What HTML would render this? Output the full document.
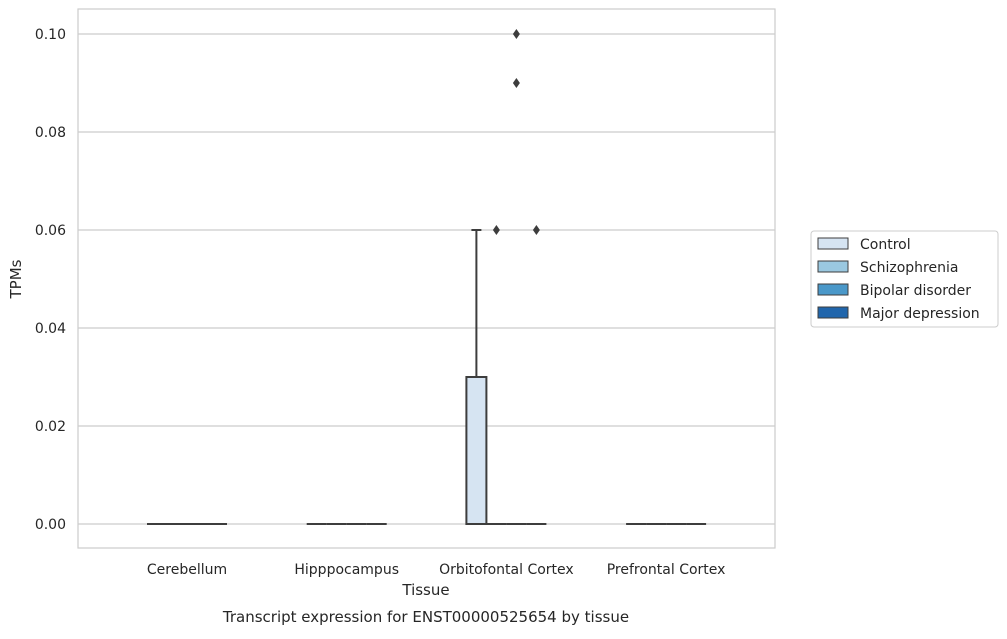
<!DOCTYPE html>
<html><head><meta charset="utf-8"><style>
body{margin:0;background:#fff;font-family:"Liberation Sans","DejaVu Sans",sans-serif;}
svg text{fill:#262626;font-family:"DejaVu Sans","Liberation Sans",sans-serif;}
</style></head><body>
<svg id="chart" width="1007" height="634" xmlns="http://www.w3.org/2000/svg">
<g id="grid"></g>
<g id="marks"></g>
<rect x="78" y="9" width="697" height="539" fill="none" stroke="#cccccc" stroke-width="1.2"/>
<g id="axes"></g>
<text x="426" y="595" font-size="15" text-anchor="middle">Tissue</text>
<text x="21" y="279" font-size="15" text-anchor="middle" transform="rotate(-90 21 279)">TPMs</text>
<text x="426" y="622" font-size="15" text-anchor="middle">Transcript expression for ENST00000525654 by tissue</text>
<g>
<rect x="811" y="231" width="187" height="96" rx="3" fill="#fff" stroke="#cccccc"/>
<g id="legend-items"></g>
</g>
</svg>
<script>
const categories=["Cerebellum","Hipppocampus","Orbitofontal Cortex","Prefrontal Cortex"];
const hues=["Control","Schizophrenia","Bipolar disorder","Major depression"];
const hueColors=["#d6e4f2","#9ac8e0","#4a98c9","#2166ac"];
const yTicks=[0,0.02,0.04,0.06,0.08,0.1];
const yTickLabels=["0.00","0.02","0.04","0.06","0.08","0.10"];
// [category][hue] = [q1, median, q3, whiskerLow, whiskerHigh]
const boxStats=[
 [[0,0,0,0,0],[0,0,0,0,0],[0,0,0,0,0],[0,0,0,0,0]],
 [[0,0,0,0,0],[0,0,0,0,0],[0,0,0,0,0],[0,0,0,0,0]],
 [[0,0,0.03,0,0.06],[0,0,0,0,0],[0,0,0,0,0],[0,0,0,0,0]],
 [[0,0,0,0,0],[0,0,0,0,0],[0,0,0,0,0],[0,0,0,0,0]]
];
const outlierCat=[2,2,2,2];
const outlierHue=[1,2,2,3];
const outlierVal=[0.06,0.10,0.09,0.06];

const NS="http://www.w3.org/2000/svg";
const y=v=>524-v*4900;
const x=i=>187+i*159.7;
const hx=h=>(h-1.5)*20;
function mk(tag,attrs,parent){const e=document.createElementNS(NS,tag);for(const k in attrs)e.setAttribute(k,attrs[k]);parent.appendChild(e);return e;}
const grid=document.getElementById('grid'),axes=document.getElementById('axes'),marks=document.getElementById('marks');
yTicks.forEach((t,i)=>{
 const l=mk('line',{x1:78,x2:775,y1:y(t),y2:y(t),stroke:'#cccccc','stroke-width':1.2},grid);
 
 const tx=mk('text',{x:66,y:y(t)+5,'font-size':14,'text-anchor':'end'},axes);tx.textContent=yTickLabels[i];
 
});
categories.forEach((c,i)=>{
 const tx=mk('text',{x:x(i),y:574,'font-size':14,'text-anchor':'middle'},axes);tx.textContent=c;
 
 boxStats[i].forEach((s,h)=>{
  const cx=x(i)+hx(h);const g=mk('g',{},marks);
  
  const st={stroke:'#3d3d3d','stroke-width':2};
  if(s[4]>s[2]){mk('line',Object.assign({x1:cx,x2:cx,y1:y(s[2]),y2:y(s[4])},st),g);mk('line',Object.assign({x1:cx-5,x2:cx+5,y1:y(s[4]),y2:y(s[4])},st),g);}
  if(s[0]>s[3]){mk('line',Object.assign({x1:cx,x2:cx,y1:y(s[0]),y2:y(s[3])},st),g);}
  mk('rect',Object.assign({x:cx-10,y:y(s[2]),width:20,height:Math.max(0,y(s[0])-y(s[2])),fill:hueColors[h]},st),g);
  mk('line',Object.assign({x1:cx-10,x2:cx+10,y1:y(s[1]),y2:y(s[1])},st),g);
 });
});
outlierVal.forEach((v,k)=>{
 const cx=x(outlierCat[k])+hx(outlierHue[k]),cy=y(v);
 const p=mk('path',{d:`M${cx} ${cy-5} L${cx+3.5} ${cy} L${cx} ${cy+5} L${cx-3.5} ${cy} Z`,fill:'#3d3d3d'},marks);
 
});
const li=document.getElementById('legend-items');
hues.forEach((h,i)=>{
 const yy=244+i*23;
 const r=mk('rect',{x:818,y:yy-6,width:30,height:11,fill:hueColors[i],stroke:'#3d3d3d','stroke-width':1},li);
 
 const t=mk('text',{x:860,y:yy+5,'font-size':14},li);t.textContent=h;
 
});
</script>
</body></html>
